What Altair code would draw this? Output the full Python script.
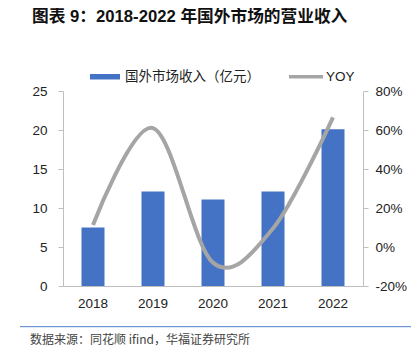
import altair as alt
import pandas as pd

years = ["2018", "2019", "2020", "2021", "2022"]
revenue = [7.5, 12.1, 11.1, 12.1, 20.1]
yoy = [0.113, 0.61, -0.08, 0.095, 0.665]

title_text = "图表 9：2018-2022 年国外市场的营业收入"
bar_label = "国外市场收入（亿元）"
line_label = "YOY"
source_text = "数据来源：同花顺 ifind，华福证券研究所"

FONT = "Liberation Sans, Arial, Noto Sans CJK SC"
BLUE = "#4472C4"
GREY = "#A5A5A5"
AXIS_C = "#BFBFBF"
TXT = "#222222"

df = pd.DataFrame({"year": years, "revenue": revenue, "yoy": yoy})
one = pd.DataFrame({"k": [0]})

x_enc = alt.X("year:N", sort=years, title=None,
              scale=alt.Scale(paddingInner=0, paddingOuter=0),
              axis=alt.Axis(labelAngle=0, ticks=False, domainColor=AXIS_C,
                            labelFontSize=13.5, labelColor=TXT, labelFont=FONT,
                            labelPadding=10))

bars = alt.Chart(df).mark_bar(size=23, color=BLUE).encode(
    x=x_enc,
    y=alt.Y("revenue:Q", title=None,
            scale=alt.Scale(domain=[0, 25], nice=False),
            axis=alt.Axis(values=[0, 5, 10, 15, 20, 25], grid=False,
                          domainColor=AXIS_C, tickColor=AXIS_C, tickSize=5,
                          labelFontSize=13.5, labelColor=TXT, labelFont=FONT,
                          labelPadding=11)),
)

line = alt.Chart(df).mark_line(color=GREY, strokeWidth=4, interpolate="cardinal").encode(
    x=alt.X("year:N", sort=years),
    y=alt.Y("yoy:Q", title=None,
            scale=alt.Scale(domain=[-0.2, 0.8], nice=False),
            axis=alt.Axis(orient="right", values=[-0.2, 0, 0.2, 0.4, 0.6, 0.8],
                          grid=False, domainColor=AXIS_C, tickColor=AXIS_C,
                          tickSize=5, labelFontSize=13.5, labelColor=TXT,
                          labelFont=FONT, labelPadding=7,
                          labelExpr="round(datum.value*100) + '%'")),
)

base = alt.Chart(one)

title = base.mark_text(align="left", baseline="middle", fontSize=16.7,
                       fontWeight="bold", font=FONT, color="#111111").encode(
    x=alt.value(-31), y=alt.value(-74), text=alt.value(title_text))

leg_rect = base.mark_rect(color=BLUE).encode(
    x=alt.value(27), x2=alt.value(57), y=alt.value(-17), y2=alt.value(-11.5))
leg_text1 = base.mark_text(align="left", baseline="middle", fontSize=13.5,
                           font=FONT, color=TXT).encode(
    x=alt.value(62), y=alt.value(-14), text=alt.value(bar_label))
leg_line = base.mark_rule(color=GREY, strokeWidth=3.5).encode(
    x=alt.value(226), x2=alt.value(260), y=alt.value(-14.3))
leg_text2 = base.mark_text(align="left", baseline="middle", fontSize=13.5,
                           font=FONT, color=TXT).encode(
    x=alt.value(263), y=alt.value(-14), text=alt.value(line_label))

sep = base.mark_rule(color="#4F7FC8", strokeWidth=1).encode(
    x=alt.value(-43), x2=alt.value(360), y=alt.value(235.7))
source = base.mark_text(align="left", baseline="middle", fontSize=12,
                        font="Noto Sans CJK SC", color="#444444").encode(
    x=alt.value(-33), y=alt.value(249), text=alt.value(source_text))

main = alt.layer(bars, line).resolve_scale(y="independent")

chart = alt.layer(main, title, leg_rect, leg_text1, leg_line, leg_text2, sep, source).properties(
    width=300, height=195,
    autosize=alt.AutoSizeParams(type="none"),
    padding={"left": 55, "top": 83, "right": 48, "bottom": 62},
).configure_view(stroke=None)

chart.save("out.html", embed_options={"renderer": "svg", "actions": False})
